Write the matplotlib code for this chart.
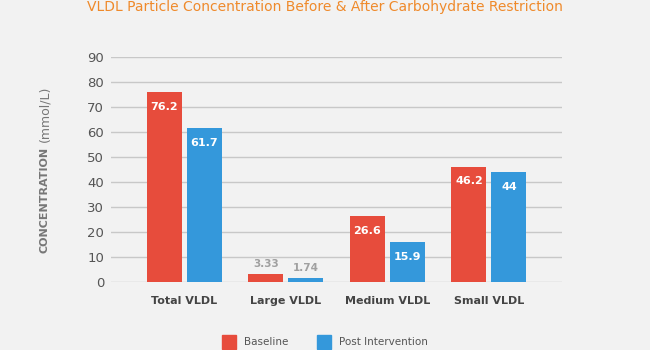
import matplotlib.pyplot as plt
import numpy as np

categories = ['Total VLDL', 'Large VLDL', 'Medium VLDL', 'Small VLDL']
baseline = [76.2, 3.33, 26.6, 46.2]
post = [61.7, 1.74, 15.9, 44]
baseline_labels = ['76.2', '3.33', '26.6', '46.2']
post_labels = ['61.7', '1.74', '15.9', '44']

red = '#e74c3c'
blue = '#3498db'
bg = '#f2f2f2'

fig = plt.figure(figsize=(6.5, 3.5), dpi=100, facecolor=bg)
ax = fig.add_axes([111/650, 1 - 282/350, 451/650, 225/350])
ax.set_facecolor(bg)

x = np.arange(len(categories))
w = 0.345
off = 0.197
ax.bar(x - off, baseline, w, color=red, zorder=3)
ax.bar(x + off, post, w, color=blue, zorder=3)

# value labels
for xs, vals, labs in [(x - off, baseline, baseline_labels), (x + off, post, post_labels)]:
    for xi, v, lab in zip(xs, vals, labs):
        if v > 10:
            ax.text(xi, v - 6, lab, ha='center', va='center', color='white',
                    fontsize=8, fontweight='bold', zorder=4)
        else:
            ax.text(xi, v + 4, lab, ha='center', va='center', color='#a0a0a0',
                    fontsize=7.5, fontweight='bold', zorder=4)

ax.set_xlim(-0.724, 3.72)
ax.set_ylim(0, 90)
ax.set_yticks(range(0, 91, 10))
ax.yaxis.grid(True, color='#c8c8c8', linewidth=1, zorder=0)
ax.set_axisbelow(True)
for s in ax.spines.values():
    s.set_visible(False)
ax.tick_params(axis='y', length=0, pad=5, labelsize=9.5, labelcolor='#555555')
ax.set_xticks(x)
ax.set_xticklabels(categories, fontsize=8, fontweight='bold', color='#444444')
ax.tick_params(axis='x', length=0, pad=10)

fig.text(325/650, 1 - 7/350, 'VLDL Particle Concentration Before & After Carbohydrate Restriction',
         ha='center', va='center', color='#ef8a2b', fontsize=10)

fig.text(45/650, 1 - 200/350, 'CONCENTRATION', rotation=90, ha='center', va='center',
         color='#777777', fontsize=8, fontweight='bold')
fig.text(45/650, 1 - 114/350, '(mmol/L)', rotation=90, ha='center', va='center',
         color='#777777', fontsize=9)

# legend
fig.patches.append(plt.Rectangle((222/650, 1 - 349/350), 14/650, 14/350,
                                 transform=fig.transFigure, color=red, figure=fig))
fig.text(244/650, 1 - 342/350, 'Baseline', ha='left', va='center', color='#555555', fontsize=7.5)
fig.patches.append(plt.Rectangle((317/650, 1 - 349/350), 14/650, 14/350,
                                 transform=fig.transFigure, color=blue, figure=fig))
fig.text(339/650, 1 - 342/350, 'Post Intervention', ha='left', va='center', color='#555555', fontsize=7.5)

fig.savefig('out.png', dpi=100, facecolor=bg)
